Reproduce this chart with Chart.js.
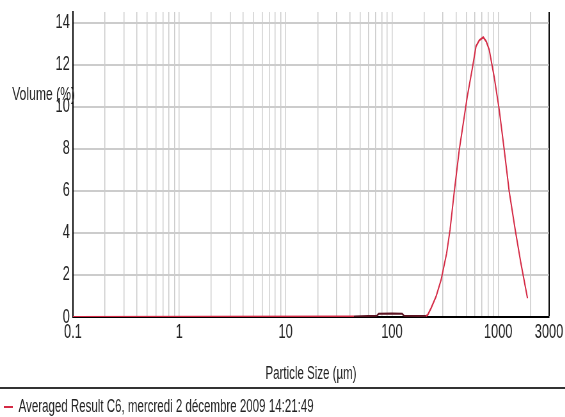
<!DOCTYPE html>
<html>
<head>
<meta charset="utf-8">
<script src="https://cdn.jsdelivr.net/npm/chart.js@4.4.1/dist/chart.umd.min.js"></script>
<style>
  html, body { margin: 0; padding: 0; background: #fff; overflow: hidden; }
  /* the original export is squeezed horizontally, so draw wide and scale down */
  #wrap { width: 883px; height: 417px; transform: scaleX(0.64); transform-origin: 0 0; }
</style>
</head>
<body>
<div id="wrap"><canvas id="psd"></canvas></div>
<script>
  "use strict";

  const seriesLabel = "Averaged Result C6, mercredi 2 décembre 2009 14:21:49";

  // particle size (um) and volume (%)
  const sizes = [0.1, 44, 60, 72, 75, 100, 125, 130, 180, 209, 217, 233, 260, 290, 327, 352, 386, 430,
    459, 512, 574, 618, 663, 723, 771, 823, 917, 1021, 1138, 1268, 1445, 1633, 1884];
  const volume = [0, 0.02, 0.05, 0.06, 0.15, 0.17, 0.15, 0.06, 0.05, 0.05, 0.1, 0.41, 0.97, 1.76, 3.03, 4.14, 5.97, 7.95,
    8.9, 10.5, 11.9, 12.87, 13.15, 13.3, 13.1, 12.7, 11.4, 9.86, 7.95, 5.97, 4.14, 2.56, 0.89];

  const xGridValues = [0.1, 0.2, 0.3, 0.4, 0.5, 0.6, 0.7, 0.8, 0.9,
    1, 2, 3, 4, 5, 6, 7, 8, 9,
    10, 20, 30, 40, 50, 60, 70, 80, 90,
    100, 200, 300, 400, 500, 600, 700, 800, 900,
    1000, 2000, 3000];
  const xLabelValues = [0.1, 1, 10, 100, 1000, 3000];
  const xTickLabels = ["0.1", "1", "10", "100", "1000", "3000"];
  const yTickValues = [0, 2, 4, 6, 8, 10, 12, 14];

  const xTitle = "Particle Size (µm)";
  const yTitle = "Volume (%)";

  const font = "'Liberation Sans', Arial, sans-serif";
  const red = "#d42a45";

  const extras = {
    id: "extras",
    afterDraw: function (chart) {
      const ctx = chart.ctx;
      const area = chart.chartArea;
      ctx.save();
      // horizontal rule above the legend
      ctx.strokeStyle = "#333";
      ctx.lineWidth = 2;
      ctx.beginPath();
      const ry = chart.legend.top - 10;
      ctx.moveTo(0, ry);
      ctx.lineTo(chart.width, ry);
      ctx.stroke();
      // horizontal y title, sitting on top of the tick labels like the original
      ctx.fillStyle = "#222";
      ctx.font = "19px " + font;
      ctx.textBaseline = "middle";
      ctx.textAlign = "left";
      ctx.fillText(yTitle, 19, area.top + 83);
      ctx.restore();
    }
  };

  new Chart(document.getElementById("psd"), {
    type: "line",
    data: {
      datasets: [{
        label: seriesLabel,
        data: sizes.map(function (s, i) { return { x: s, y: volume[i] }; }),
        borderColor: red,
        backgroundColor: red,
        borderWidth: 2,
        pointRadius: 0,
        tension: 0,
        segment: {
          borderColor: function (c) {
            return (c.p0.parsed.x >= 40 && c.p1.parsed.x <= 215) ? "#5c1422" : undefined;
          }
        }
      }]
    },
    options: {
      responsive: true,
      maintainAspectRatio: false,
      animation: false,
      layout: { padding: { top: 12, right: 24, bottom: -9, left: 6 } },
      plugins: {
        legend: {
          position: "bottom",
          align: "start",
          labels: {
            usePointStyle: true,
            pointStyle: "line",
            pointStyleWidth: 14,
            padding: 0,
            color: "#222",
            font: { family: font, size: 18 }
          }
        },
        tooltip: { enabled: false }
      },
      scales: {
        x: {
          type: "logarithmic",
          min: 0.1,
          max: 3000,
          afterBuildTicks: function (scale) {
            scale.ticks = xGridValues.map(function (v) { return { value: v }; });
          },
          afterFit: function (scale) { scale.height = 81; },
          ticks: {
            autoSkip: false,
            maxRotation: 0,
            padding: 3,
            color: "#222",
            font: { family: font, size: 20 },
            callback: function (value) {
              const i = xLabelValues.indexOf(value);
              return i >= 0 ? xTickLabels[i] : "";
            }
          },
          grid: {
            drawTicks: false,
            color: function (c) {
              if (!c.tick) return "#cbcbcb";
              if (c.tick.value === 3000) return "#000";
              if (c.tick.value === 0.1) return "rgba(0,0,0,0)";
              return "#cbcbcb";
            },
            lineWidth: function (c) {
              return c.tick && c.tick.value === 3000 ? 2 : 1.5;
            }
          },
          border: { color: "#000", width: 2 },
          title: {
            display: true,
            text: xTitle,
            color: "#222",
            font: { family: font, size: 18 },
            padding: { top: 0, bottom: 13 }
          }
        },
        y: {
          min: 0,
          max: 14.5,
          afterBuildTicks: function (scale) {
            scale.ticks = yTickValues.map(function (v) { return { value: v }; });
          },
          afterFit: function (scale) {
            scale.width = 108;
            scale.paddingTop = 0;
            scale.paddingBottom = 0;
          },
          ticks: {
            padding: 5,
            color: "#222",
            font: { family: font, size: 20 }
          },
          grid: {
            drawTicks: false,
            color: function (c) {
              return c.tick && c.tick.value === 0 ? "rgba(0,0,0,0)" : "#cccccc";
            },
            lineWidth: 2
          },
          border: { color: "#000", width: 2 }
        }
      }
    },
    plugins: [extras]
  });
</script>
</body>
</html>
